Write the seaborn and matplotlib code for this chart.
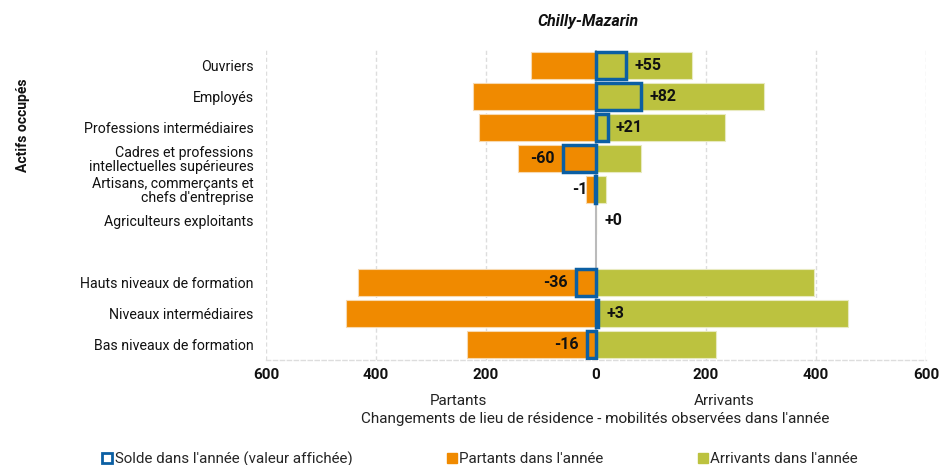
import matplotlib
matplotlib.use("Agg")
import matplotlib.pyplot as plt
from matplotlib.lines import Line2D
import seaborn as sns
import pandas as pd

categories = ["Ouvriers", "Employés", "Professions intermédiaires",
              "Cadres et professions\nintellectuelles supérieures",
              "Artisans, commerçants et\nchefs d'entreprise",
              "Agriculteurs exploitants", " ",
              "Hauts niveaux de formation", "Niveaux intermédiaires",
              "Bas niveaux de formation"]
data_cats = [c for c in categories if c.strip()]
partants = [119, 224, 213, 142, 19, 0, 432, 455, 235]
arrivants = [174, 306, 234, 82, 18, 0, 396, 458, 219]
solde = [55, 82, 21, -60, -1, 0, -36, 3, -16]
xticks = [-600, -400, -200, 0, 200, 400, 600]

ORANGE = "#F08A00"
GREEN = "#BCC23F"
BLUE = "#0B5FA3"

sns.set_theme(style="white")
plt.rcParams["font.family"] = ["Roboto", "DejaVu Sans"]

df = pd.DataFrame({"cat": data_cats,
                   "partants": [-p for p in partants],
                   "arrivants": arrivants,
                   "solde": solde})

fig = plt.figure(figsize=(9.41, 4.65), dpi=100)
ax = fig.add_axes([0.2827, 0.2258, 0.7014, 0.6667])

for x in xticks:
    if x != 0:
        ax.axvline(x, color="#dddddd", lw=1, ls=(0, (3, 2)), zorder=0)

sns.barplot(data=df, x="partants", y="cat", order=categories, color=ORANGE,
            saturation=1, width=0.9, edgecolor="#f7d9b0", linewidth=0.8, ax=ax, zorder=2)
sns.barplot(data=df, x="arrivants", y="cat", order=categories, color=GREEN,
            saturation=1, width=0.9, edgecolor="#e8eac0", linewidth=0.8, ax=ax, zorder=2)
n_before = len(ax.patches)
sns.barplot(data=df, x="solde", y="cat", order=categories, color=BLUE,
            fill=False, width=0.9, linewidth=2.5, ax=ax, zorder=4)
for p in ax.patches[n_before:]:
    if abs(p.get_width()) < 1e-9:
        p.set_visible(False)

ax.axvline(0, color="#bbbbbb", lw=1.5, zorder=3)

for cat, s in zip(data_cats, solde):
    yi = categories.index(cat)
    lab = f"+{s}" if s >= 0 else f"{s}"
    off = 6 if s >= 0 else -6
    ax.annotate(lab, (s, yi), xytext=(off, 0), textcoords="offset points",
                ha="left" if s >= 0 else "right", va="center", fontsize=11.5,
                fontweight="bold", color="#111111", zorder=6)

ax.set_xlim(-600, 600)
ax.set_ylim(9.5, -0.5)
ax.set_xticks(xticks)
ax.set_xticklabels([str(abs(v)) for v in xticks], fontsize=11, fontweight="bold", color="#111111")
ax.tick_params(axis="x", length=0, pad=6)
ax.set_yticks(range(len(categories)))
ax.set_yticklabels(categories, fontsize=10.2, color="#111111", linespacing=1.0)
ax.tick_params(axis="y", length=0, pad=9)
ax.set_xlabel("")
ax.set_ylabel("")
for side in ["top", "right", "left"]:
    ax.spines[side].set_visible(False)
ax.spines["bottom"].set_color("#dddddd")
ax.spines["bottom"].set_linestyle((0, (3, 2)))
ax.spines["bottom"].set_linewidth(1)

fig.text(0.625, 0.953, "Chilly-Mazarin", ha="center", va="center",
         fontsize=11.4, fontweight="bold", fontstyle="italic", color="#111111")
fig.text(0.024, 0.73, "Actifs occupés", rotation=90, ha="center", va="center",
         fontsize=10, fontweight="bold", color="#111111")
fig.text(0.487, 0.138, "Partants", ha="center", va="center", fontsize=11, color="#222222")
fig.text(0.770, 0.138, "Arrivants", ha="center", va="center", fontsize=11, color="#222222")
fig.text(0.633, 0.099, "Changements de lieu de résidence - mobilités observées dans l'année",
         ha="center", va="center", fontsize=11, color="#222222")

handles = [
    Line2D([], [], marker="s", ls="", markersize=7, markerfacecolor="white",
           markeredgecolor=BLUE, markeredgewidth=2),
    Line2D([], [], marker="s", ls="", markersize=7, markerfacecolor=ORANGE,
           markeredgecolor=ORANGE),
    Line2D([], [], marker="s", ls="", markersize=7, markerfacecolor=GREEN,
           markeredgecolor=GREEN),
]
labels = ["Solde dans l'année (valeur affichée)", "Partants dans l'année", "Arrivants dans l'année"]
fig.legend(handles, labels, loc="center", bbox_to_anchor=(0.51, 0.013), ncol=3,
           frameon=False, fontsize=10.9, handlelength=0.7, handletextpad=0.15,
           columnspacing=6.2, borderaxespad=0)

fig.savefig("out.png", dpi=100)
